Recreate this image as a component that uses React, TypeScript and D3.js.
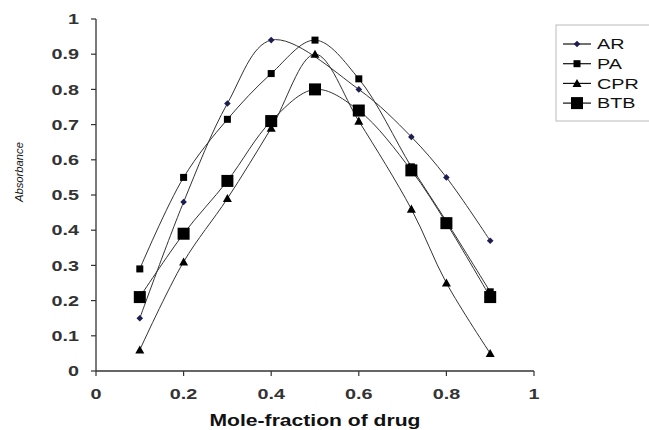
import React from "react";
import * as d3 from "d3";

// Mole fraction of drug and absorbance readings for each reagent
const xAR = [0.1, 0.2, 0.3, 0.4, 0.6, 0.72, 0.8, 0.9];
const yAR = [0.15, 0.48, 0.76, 0.94, 0.8, 0.665, 0.55, 0.37];

const xPA = [0.1, 0.2, 0.3, 0.4, 0.5, 0.6, 0.72, 0.8, 0.9];
const yPA = [0.29, 0.55, 0.715, 0.845, 0.94, 0.83, 0.58, 0.425, 0.225];

const xCPR = [0.1, 0.2, 0.3, 0.4, 0.5, 0.6, 0.72, 0.8, 0.9];
const yCPR = [0.06, 0.31, 0.49, 0.69, 0.9, 0.71, 0.46, 0.25, 0.05];

const xBTB = [0.1, 0.2, 0.3, 0.4, 0.5, 0.6, 0.72, 0.8, 0.9];
const yBTB = [0.21, 0.39, 0.54, 0.71, 0.8, 0.74, 0.57, 0.42, 0.21];

const seriesNames = ["AR", "PA", "CPR", "BTB"];
const xTicks = [0, 0.2, 0.4, 0.6, 0.8, 1];
const yTicks = [0, 0.1, 0.2, 0.3, 0.4, 0.5, 0.6, 0.7, 0.8, 0.9, 1];

type Marker = "diamond" | "square" | "triangle" | "bigsquare";

const series: { name: string; xs: number[]; ys: number[]; marker: Marker; color: string }[] = [
  { name: seriesNames[0], xs: xAR, ys: yAR, marker: "diamond", color: "#1d1d52" },
  { name: seriesNames[1], xs: xPA, ys: yPA, marker: "square", color: "#000" },
  { name: seriesNames[2], xs: xCPR, ys: yCPR, marker: "triangle", color: "#000" },
  { name: seriesNames[3], xs: xBTB, ys: yBTB, marker: "bigsquare", color: "#000" },
];

// Text in this chart is drawn slightly wide
const STRETCH = 1.32;
const FONT = "Liberation Sans, Arial, sans-serif";

function WideText({
  x,
  y,
  anchor,
  size,
  bold,
  color,
  children,
}: {
  x: number;
  y: number;
  anchor: "start" | "middle" | "end";
  size: number;
  bold?: boolean;
  color: string;
  children: React.ReactNode;
}) {
  return (
    <g transform={`translate(${x},${y}) scale(${STRETCH},1)`}>
      <text
        dy="0.35em"
        textAnchor={anchor}
        fontFamily={FONT}
        fontWeight={bold ? "bold" : "normal"}
        fontSize={size}
        fill={color}
      >
        {children}
      </text>
    </g>
  );
}

function MarkerShape({ kind, cx, cy, color }: { kind: Marker; cx: number; cy: number; color: string }) {
  if (kind === "diamond") {
    const r = 3.3;
    return <path d={`M${cx},${cy - r}L${cx + r},${cy}L${cx},${cy + r}L${cx - r},${cy}Z`} fill={color} />;
  }
  if (kind === "square") {
    const s = 7;
    return <rect x={cx - s / 2} y={cy - s / 2} width={s} height={s} fill={color} />;
  }
  if (kind === "triangle") {
    const r = 4.5;
    return <path d={`M${cx},${cy - r}L${cx + r},${cy + r * 0.8}L${cx - r},${cy + r * 0.8}Z`} fill={color} />;
  }
  const s = 12;
  return <rect x={cx - s / 2} y={cy - s / 2} width={s} height={s} fill={color} />;
}

export default function App() {
  const width = 649;
  const height = 430;
  const x = d3.scaleLinear().domain([0, 1]).range([96, 534]);
  const y = d3.scaleLinear().domain([0, 1]).range([371, 19]);

  const line = d3
    .line<[number, number]>()
    .x((d) => x(d[0]))
    .y((d) => y(d[1]))
    .curve(d3.curveCatmullRom.alpha(0.5));

  return (
    <svg
      width={width}
      height={height}
      style={{ position: "absolute", left: 0, top: 0, background: "#fff" }}
    >
      {/* axes */}
      <line x1={x(0)} x2={x(0)} y1={y(1)} y2={y(0)} stroke="#333" strokeWidth={1.3} />
      <line x1={x(0)} x2={x(1)} y1={y(0)} y2={y(0)} stroke="#333" strokeWidth={1.3} />
      {yTicks.map((t) => (
        <g key={"y" + t}>
          <line x1={x(0) - 5} x2={x(0)} y1={y(t)} y2={y(t)} stroke="#333" strokeWidth={1.2} />
          <WideText x={79} y={y(t)} anchor="end" size={15} bold color="#333">
            {String(t)}
          </WideText>
        </g>
      ))}
      {xTicks.map((t) => (
        <g key={"x" + t}>
          <line x1={x(t)} x2={x(t)} y1={y(0)} y2={y(0) + 5} stroke="#333" strokeWidth={1.2} />
          <WideText x={x(t)} y={394} anchor="middle" size={15} bold color="#333">
            {String(t)}
          </WideText>
        </g>
      ))}
      <WideText x={315} y={420} anchor="middle" size={16} bold color="#111">
        Mole-fraction of drug
      </WideText>
      <text
        transform={`translate(19,172) rotate(-90)`}
        dy="0.35em"
        textAnchor="middle"
        fontFamily={FONT}
        fontStyle="italic"
        fontSize={10}
        fill="#111"
        textLength={60}
        lengthAdjust="spacingAndGlyphs"
      >
        Absorbance
      </text>

      {/* curves */}
      {series.map((s) => (
        <path
          key={"l" + s.name}
          d={line(s.xs.map((v, i) => [v, s.ys[i]] as [number, number])) || ""}
          fill="none"
          stroke="#333"
          strokeWidth={1}
        />
      ))}
      {series.map((s) => (
        <g key={"m" + s.name}>
          {s.xs.map((v, i) => (
            <MarkerShape key={i} kind={s.marker} cx={x(v)} cy={y(s.ys[i])} color={s.color} />
          ))}
        </g>
      ))}

      {/* legend */}
      <rect x={556} y={25} width={100} height={96} fill="#fff" stroke="#bbb" strokeWidth={1} />
      {series.map((s, i) => {
        const cy = 44 + i * 19.7;
        return (
          <g key={"lg" + s.name}>
            <line x1={563} x2={591} y1={cy} y2={cy} stroke="#111" strokeWidth={1.2} />
            <MarkerShape kind={s.marker} cx={577} cy={cy} color={s.color} />
            <WideText x={597} y={cy} anchor="start" size={15} color="#111">
              {s.name}
            </WideText>
          </g>
        );
      })}
    </svg>
  );
}
